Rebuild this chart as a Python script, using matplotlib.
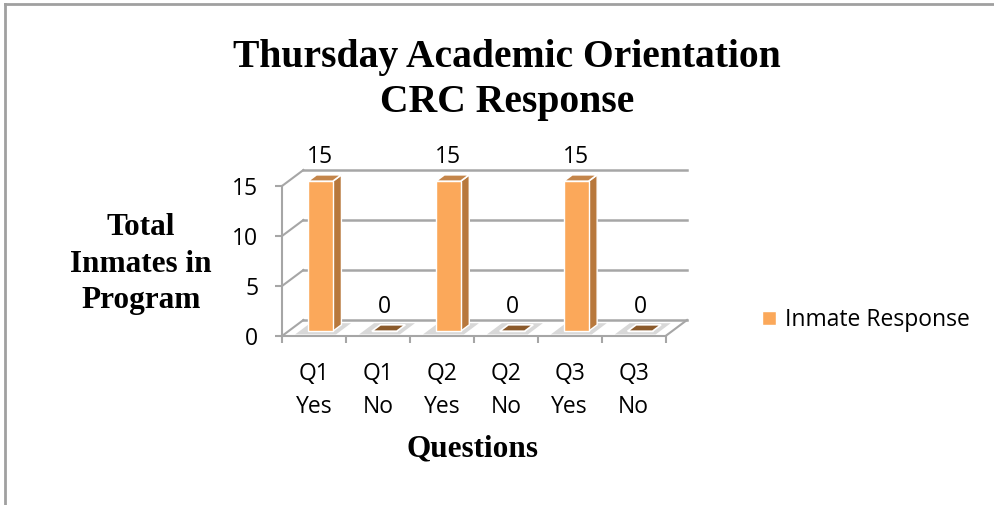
import matplotlib.pyplot as plt
import numpy as np
from matplotlib.patches import Polygon
from matplotlib.lines import Line2D

# data
categories = ['Q1\nYes', 'Q1\nNo', 'Q2\nYes', 'Q2\nNo', 'Q3\nYes', 'Q3\nNo']
responses = [15, 0, 15, 0, 15, 0]
y_ticks = [0, 5, 10, 15]
series_name = 'Inmate Response'

# fake 3d depth (category units, value units)
DX, DY = 0.335, 1.6
f0, f1 = 0.3, 0.7
w = 0.39

front_c = '#FBA85A'
side_c = '#B8783C'
top_c = '#C4854A'
flat_c = '#8B5A2B'
grid_c = '#A6A6A6'
sans = 'Open Sans'
serif = 'Liberation Serif'
fs = 16.5

fig = plt.figure(figsize=(9.95, 5.05), dpi=100)
ax = fig.add_axes([282 / 995, (505 - 336) / 505, 405 / 995, 170 / 505])
ax.set_xlim(-0.5, 5.5 + DX)
ax.set_ylim(0, 17)
ax.patch.set_alpha(0)

x = np.arange(len(categories))

# back wall gridlines + left wall
for v in y_ticks:
    ax.plot([-0.5 + DX, 5.5 + DX], [v + DY, v + DY], color=grid_c, lw=1.8, zorder=1, clip_on=False)
    ax.plot([-0.5, -0.5 + DX], [v, v + DY], color=grid_c, lw=1.5, zorder=1, clip_on=False)
# floor right edge
ax.plot([5.5, 5.5 + DX], [0, DY], color=grid_c, lw=1.5, zorder=1, clip_on=False)

# shadows on floor
for xi in x:
    x0 = xi - w / 2 + f0 * DX
    shadow = Polygon([(x0 - 0.2, 0.1 * DY), (x0 + w + 0.05, 0.1 * DY),
                      (x0 + w + 0.05 + 0.7 * DX, 0.8 * DY), (x0 - 0.2 + 0.7 * DX, 0.8 * DY)],
                     closed=True, color='#D8D8D8', lw=0, zorder=2)
    ax.add_patch(shadow)

# front faces
bars = ax.bar(x + f0 * DX, responses, width=w, bottom=f0 * DY, color=front_c,
              edgecolor='white', linewidth=1, zorder=4, label=series_name)

# sides and tops
d = (f1 - f0)
for xi, v in zip(x, responses):
    xl = xi - w / 2 + f0 * DX
    xr = xl + w
    yb = f0 * DY
    yt = v + f0 * DY
    if v > 0:
        side = Polygon([(xr, yb), (xr + d * DX, yb + d * DY), (xr + d * DX, yt + d * DY), (xr, yt)],
                       closed=True, facecolor=side_c, edgecolor='white', lw=1, zorder=3)
        ax.add_patch(side)
    top = Polygon([(xl, yt), (xr, yt), (xr + d * DX, yt + d * DY), (xl + d * DX, yt + d * DY)],
                  closed=True, facecolor=top_c if v > 0 else flat_c, edgecolor='white', lw=1.2, zorder=5)
    ax.add_patch(top)
    ax.annotate(str(v), (xi + f0 * DX, v + f1 * DY), xytext=(0, 13), textcoords='offset points',
                ha='center', va='center', fontsize=fs, family=sans, color='black')

# axes
for s in ['top', 'right']:
    ax.spines[s].set_visible(False)
ax.spines['left'].set_bounds(0, 15)
ax.spines['bottom'].set_bounds(-0.5, 5.5)
for s in ['left', 'bottom']:
    ax.spines[s].set_color(grid_c)
    ax.spines[s].set_linewidth(1.5)
ax.set_yticks(y_ticks)
ax.set_yticklabels([str(t) for t in y_ticks], family=sans, fontsize=fs)
ax.tick_params(axis='y', length=5, width=1.5, color=grid_c, pad=12)
ax.set_xticks(x)
ax.set_xticklabels(categories, family=sans, fontsize=fs, linespacing=1.5)
ax.set_xticks(np.arange(-0.5, 6, 1), minor=True)
ax.tick_params(axis='x', which='major', length=0, pad=19)
ax.tick_params(axis='x', which='minor', length=5, width=1.5, color=grid_c)

# titles
fig.text(507 / 995, 1 - 80 / 505, 'Thursday Academic Orientation\nCRC Response', ha='center', va='center',
         family=serif, fontweight='bold', fontsize=28.5, linespacing=1.3)
fig.text(141 / 995, 1 - 264 / 505, 'Total\nInmates in\nProgram', ha='center', va='center',
         family=serif, fontweight='bold', fontsize=22.5, linespacing=1.33)
fig.text(473 / 995, 1 - 449 / 505, 'Questions', ha='center', va='center',
         family=serif, fontweight='bold', fontsize=22.5)

fig.legend(handles=[bars], labels=[series_name], loc='center left',
           bbox_to_anchor=(762 / 995, 1 - 320 / 505), frameon=False, prop={'family': sans, 'size': fs},
           handlelength=0.6, handleheight=0.6, handletextpad=0.4, borderpad=0, borderaxespad=0)

# chart border
fig.add_artist(Line2D([5 / 995, 1], [1 - 4 / 505, 1 - 4 / 505], color='#A0A0A0', lw=2))
fig.add_artist(Line2D([5 / 995, 5 / 995], [0, 1 - 4 / 505], color='#A0A0A0', lw=2))

fig.savefig('out.png', dpi=100)
